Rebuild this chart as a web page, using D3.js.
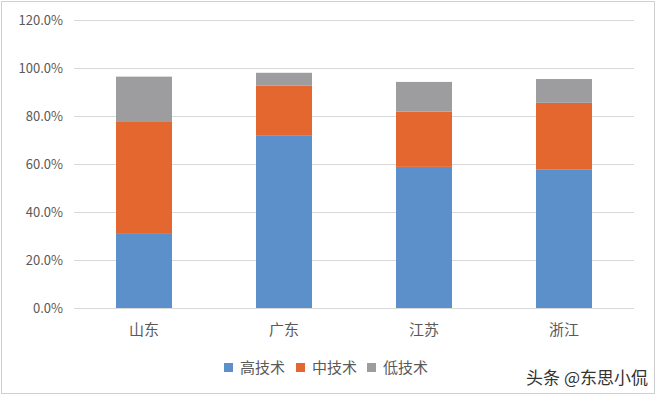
<!DOCTYPE html>
<html>
<head>
<meta charset="utf-8">
<script src="https://cdn.jsdelivr.net/npm/d3@7"></script>
<style>
  body { margin: 0; background: #fff; }
  text { font-family: "Microsoft YaHei", "Noto Sans CJK SC", sans-serif; }
</style>
</head>
<body>
<div id="chart"></div>
<script>
const width = 657
const height = 396

const provinces = ["山东", "广东", "江苏", "浙江"]
const seriesNames = ["高技术", "中技术", "低技术"]
const high = [31.2, 72.0, 58.8, 57.6]
const mid = [46.3, 20.6, 23.0, 27.9]
const low = [18.9, 5.4, 12.4, 9.9]
const yTicks = [0, 20, 40, 60, 80, 100, 120]
const colors = ["#5b90cb", "#e3672f", "#9d9d9f"]

const svg = d3.select("#chart").append("svg").attr("width", width).attr("height", height)

// outer frame
svg.append("rect")
    .attr("x", 1.5).attr("y", 1.5)
    .attr("width", width - 4).attr("height", height - 4)
    .attr("fill", "#fff").attr("stroke", "#d0d0d0")

const x = d3.scaleBand().domain(provinces).range([74, 634])
const y = d3.scaleLinear().domain([0, 120]).range([308, 20])

// gridlines
svg.append("g")
    .selectAll("line")
    .data(yTicks)
    .join("line")
    .attr("x1", 74).attr("x2", 634)
    .attr("y1", d => Math.round(y(d)) + 0.5)
    .attr("y2", d => Math.round(y(d)) + 0.5)
    .attr("stroke", "#d9d9d9")

// y labels
svg.append("g")
    .selectAll("text")
    .data(yTicks)
    .join("text")
    .attr("x", 63)
    .attr("y", d => y(d) + 4.5)
    .attr("text-anchor", "end")
    .attr("font-size", 13)
    .attr("fill", "#595959")
    .text(d => d.toFixed(1) + "%")

// stacked data
const rows = provinces.map((p, i) => ({ name: p, "高技术": high[i], "中技术": mid[i], "低技术": low[i] }))
const stacked = d3.stack().keys(seriesNames)(rows)

const barW = x.bandwidth() * 0.4

svg.append("g")
    .selectAll("g")
    .data(stacked)
    .join("g")
    .attr("fill", (d, i) => colors[i])
    .selectAll("rect")
    .data(d => d)
    .join("rect")
    .attr("x", d => x(d.data.name) + (x.bandwidth() - barW) / 2)
    .attr("width", barW)
    .attr("y", d => y(d[1]))
    .attr("height", d => y(d[0]) - y(d[1]))

// x labels
svg.append("g")
    .selectAll("text")
    .data(provinces)
    .join("text")
    .attr("x", d => x(d) + x.bandwidth() / 2)
    .attr("y", 335)
    .attr("text-anchor", "middle")
    .attr("font-size", 15)
    .attr("fill", "#595959")
    .text(d => d)

// legend
const legendX = [224, 296, 367]
const legend = svg.append("g")
    .selectAll("g")
    .data(seriesNames)
    .join("g")
    .attr("transform", (d, i) => `translate(${legendX[i]},367)`)

legend.append("rect")
    .attr("x", 0).attr("y", -4)
    .attr("width", 9).attr("height", 9)
    .attr("fill", (d, i) => colors[i])

legend.append("text")
    .attr("x", 16).attr("y", 6)
    .attr("font-size", 15)
    .attr("fill", "#595959")
    .text(d => d)

// watermark
svg.append("text")
    .attr("x", 648).attr("y", 384)
    .attr("text-anchor", "end")
    .attr("font-size", 17)
    .attr("fill", "#333")
    .text("头条 @东思小侃")
</script>
</body>
</html>
